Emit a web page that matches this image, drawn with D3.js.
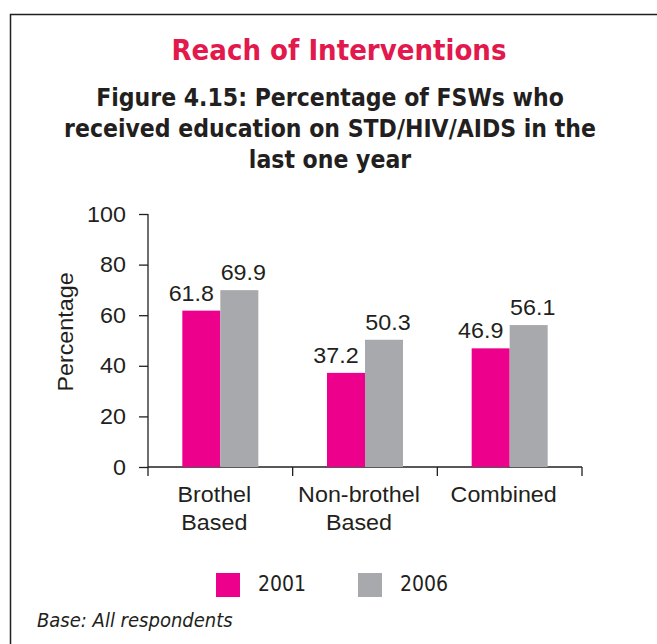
<!DOCTYPE html>
<html>
<head>
<meta charset="utf-8">
<script src="https://cdn.jsdelivr.net/npm/d3@7"></script>
<style>
	body { margin: 0; background: #fff; }
	svg { display: block; }
</style>
</head>
<body>
<svg></svg>
<script>
// data
const categories = [["Brothel", "Based"], ["Non-brothel", "Based"], ["Combined"]];
const seriesNames = ["2001", "2006"];
const values2001 = [61.8, 37.2, 46.9];
const values2006 = [69.9, 50.3, 56.1];
const yTicks = [0, 20, 40, 60, 80, 100];
const seriesColors = ["#ec008c", "#a7a9ac"];

const svgWidth = 657;
const svgHeight = 644;
const textColor = "#231f20";
const sansFont = "'Liberation Sans', Arial, sans-serif";
const titleFont = "'DejaVu Sans Condensed', 'DejaVu Sans', sans-serif";
const stretchX = 1.06;
const barWidth = 38;

const svg = d3.select("svg")
				.attr("width", svgWidth)
				.attr("height", svgHeight);

const catKeys = categories.map(c => c.join(" "));
const rows = catKeys.map((k, i) => ({ key: k, lines: categories[i], vals: [values2001[i], values2006[i]] }));

let xScale = d3.scaleBand()
				.domain(catKeys)
				.range([148, 582])
				.padding(0);
let innerScale = d3.scaleBand()
				.domain(seriesNames)
				.range([xScale.bandwidth() / 2 - barWidth, xScale.bandwidth() / 2 + barWidth]);
let yScale = d3.scaleLinear()
				.domain([0, 100])
				.range([467, 214]);

// frame
svg
	.append("path")
	.attr("d", `M${svgWidth},14.5 H10.5 V${svgHeight}`)
	.attr("fill", "none")
	.attr("stroke", textColor)
	.attr("stroke-width", 1.5);

// titles
svg
	.append("text")
	.text("Reach of Interventions")
	.attr("x", 339)
	.attr("y", 60)
	.attr("font-family", titleFont)
	.attr("font-weight", "bold")
	.attr("font-size", 29)
	.attr("fill", "#e2194c")
	.attr("text-anchor", "middle");

const subtitle = ["Figure 4.15: Percentage of FSWs who",
	"received education on STD/HIV/AIDS in the",
	"last one year"];
svg
	.selectAll(".subtitle")
	.data(subtitle)
	.enter()
	.append("text")
		.attr("class", "subtitle")
		.text(d => d)
		.attr("x", 330)
		.attr("y", (d, i) => 106 + i * 31)
		.attr("font-family", titleFont)
		.attr("font-weight", "bold")
		.attr("font-size", 24.5)
		.attr("fill", textColor)
		.attr("text-anchor", "middle");

// y axis
let yAxis = d3.axisLeft(yScale)
				.tickValues(yTicks)
				.tickSize(9)
				.tickPadding(12)
				.tickSizeOuter(0);
let gy = svg
	.append("g")
	.attr("transform", "translate(148, 0)")
	.call(yAxis);
gy.select(".domain").attr("d", `M0,${yScale(100)} V${yScale(0) + 9}`);
gy.selectAll("line, path").attr("stroke", textColor).attr("stroke-width", 1.3);
gy.selectAll("text")
	.attr("font-family", sansFont)
	.attr("font-size", 22)
	.attr("fill", textColor)
	.attr("x", -22 / stretchX)
	.attr("transform", `scale(${stretchX},1)`);

// x axis line and separators
let gx = svg.append("g");
gx
	.append("line")
	.attr("x1", xScale.range()[0])
	.attr("x2", xScale.range()[1])
	.attr("y1", yScale(0))
	.attr("y2", yScale(0))
	.attr("stroke", textColor)
	.attr("stroke-width", 1.3);
gx
	.selectAll(".sep")
	.data(catKeys)
	.enter()
	.append("line")
		.attr("class", "sep")
		.attr("x1", d => xScale(d) + xScale.bandwidth())
		.attr("x2", d => xScale(d) + xScale.bandwidth())
		.attr("y1", yScale(0))
		.attr("y2", yScale(0) + 9)
		.attr("stroke", textColor)
		.attr("stroke-width", 1.3);

// category labels
rows.forEach(r => {
	r.lines.forEach((line, j) => {
		svg
			.append("text")
			.text(line)
			.attr("transform", `translate(${xScale(r.key) + xScale.bandwidth() / 2 - 6}, ${502 + j * 28}) scale(${stretchX},1)`)
			.attr("font-family", sansFont)
			.attr("font-size", 22)
			.attr("fill", textColor)
			.attr("text-anchor", "middle");
	});
});

// bars
let groups = svg
	.selectAll(".cat")
	.data(rows)
	.enter()
	.append("g")
		.attr("class", "cat")
		.attr("transform", d => `translate(${xScale(d.key)}, 0)`);

groups
	.selectAll("rect")
	.data(d => d.vals.map((v, i) => ({ series: seriesNames[i], value: v, i: i })))
	.enter()
	.append("rect")
		.attr("x", d => innerScale(d.series))
		.attr("width", innerScale.bandwidth())
		.attr("y", d => yScale(d.value))
		.attr("height", d => yScale(0) - yScale(d.value))
		.attr("fill", d => seriesColors[d.i]);

// value labels
const labelShift = [-10, 4];
groups
	.selectAll(".val")
	.data(d => d.vals.map((v, i) => ({ series: seriesNames[i], value: v, i: i })))
	.enter()
	.append("text")
		.attr("class", "val")
		.text(d => d.value.toFixed(1))
		.attr("transform", d => `translate(${innerScale(d.series) + innerScale.bandwidth() / 2 + labelShift[d.i]}, ${yScale(d.value) - 10}) scale(${stretchX},1)`)
		.attr("font-family", sansFont)
		.attr("font-size", 22)
		.attr("fill", textColor)
		.attr("text-anchor", "middle");

// y axis label
svg
	.append("text")
	.text("Percentage")
	.attr("transform", `translate(73, 332) rotate(-90) scale(${stretchX},1)`)
	.attr("font-family", sansFont)
	.attr("font-size", 22)
	.attr("fill", textColor)
	.attr("text-anchor", "middle");

// legend
let legend = svg
	.selectAll(".legend")
	.data(seriesNames)
	.enter()
	.append("g")
		.attr("class", "legend")
		.attr("transform", (d, i) => `translate(${216 + i * 142}, 573)`);
legend
	.append("rect")
	.attr("width", 24)
	.attr("height", 24)
	.attr("fill", (d, i) => seriesColors[i]);
legend
	.append("text")
	.text(d => d)
	.attr("x", 42)
	.attr("y", 18)
	.attr("font-family", titleFont)
	.attr("font-size", 21)
	.attr("fill", textColor);

// base note
svg
	.append("text")
	.text("Base: All respondents")
	.attr("x", 37)
	.attr("y", 627)
	.attr("font-family", titleFont)
	.attr("font-style", "italic")
	.attr("font-size", 20)
	.attr("fill", textColor);
</script>
</body>
</html>
